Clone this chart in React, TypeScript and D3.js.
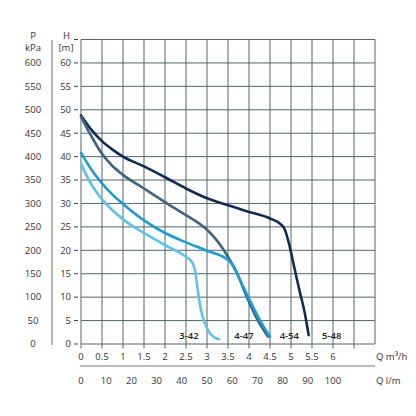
import { useEffect, useRef } from 'react';
import * as d3 from 'd3';

// flow in m³/h, head in m
const flowTicks = [0, 0.5, 1, 1.5, 2, 2.5, 3, 3.5, 4, 4.5, 5, 5.5, 6];
const lpmTicks = [0, 10, 20, 30, 40, 50, 60, 70, 80, 90, 100];
const headTicks = [0, 5, 10, 15, 20, 25, 30, 35, 40, 45, 50, 55, 60];
const pressureTicks = [0, 50, 100, 150, 200, 250, 300, 350, 400, 450, 500, 550, 600];

const q342 = [0, 0.17, 0.41, 0.73, 1.0, 1.5, 2.0, 2.5, 2.64, 2.72, 2.78, 2.85, 2.95, 3.07, 3.2, 3.28];
const h342 = [38.5, 35.3, 31.9, 28.7, 26.6, 23.7, 21.1, 18.6, 17.5, 15.5, 11.5, 7.5, 4.4, 2.3, 1.3, 1.0];

const q447 = [0, 0.25, 0.5, 0.75, 1.0, 1.5, 2.0, 2.5, 2.8, 3.0, 3.2, 3.5, 3.71, 3.94, 4.2, 4.45];
const h447 = [48.5, 44.3, 40.6, 38.0, 36.1, 33.2, 30.3, 27.5, 25.8, 24.4, 22.5, 18.6, 15.2, 10.2, 5.2, 1.6];

const q447b = [0, 0.25, 0.5, 0.75, 1.0, 1.5, 2.0, 2.5, 3.0, 3.5, 3.6, 3.8, 4.02, 4.26, 4.5];
const h447b = [40.8, 37.2, 34.3, 31.9, 29.9, 26.4, 23.7, 21.7, 19.9, 17.9, 17.0, 13.4, 9.3, 5.1, 1.5];

const q454 = [0, 0.25, 0.5, 0.75, 1.0, 1.5, 2.0, 2.5, 3.0, 3.5, 4.0, 4.5, 4.75, 4.85, 4.95, 5.05, 5.2, 5.33, 5.42];
const h454 = [48.8, 45.7, 43.3, 41.5, 40.0, 37.9, 35.6, 33.2, 31.1, 29.6, 28.2, 26.8, 25.6, 24.5, 21.5, 17.5, 11.5, 6.5, 1.9];

const modelLabels = ['3-42', '4-47', '4-54', '5-48'];
const modelLabelQ = [2.57, 3.88, 4.96, 5.97];

export default function App() {
  const svgRef = useRef<SVGSVGElement>(null);

  useEffect(() => {
    if (!svgRef.current) return;
    const svg = d3.select(svgRef.current);
    svg.selectAll('*').remove();

    const x = d3.scaleLinear().domain([0, 7]).range([81, 375]);
    const y = d3.scaleLinear().domain([0, 65]).range([344, 39.5]);
    const xl = d3.scaleLinear().domain([0, 7000 / 60]).range([81, 375]);
    const font = "'Open Sans', sans-serif";
    const gridColor = '#536769';
    const textColor = '#333';

    // left divider
    svg.append('line')
      .attr('x1', 52).attr('x2', 52).attr('y1', 40).attr('y2', 345)
      .attr('stroke', '#9a9a9a').attr('stroke-width', 1.5);

    const g = svg.append('g');

    // vertical grid, extended below as ticks
    const vLines = d3.range(0, 7.01, 0.5);
    g.selectAll('.vl')
      .data(vLines)
      .join('line')
      .attr('x1', (d) => x(d)).attr('x2', (d) => x(d))
      .attr('y1', y(65))
      .attr('y2', (d) => (d === 7 ? y(0) : y(0) + 4.5))
      .attr('stroke', gridColor).attr('stroke-width', 1);

    const hLines = d3.range(0, 65.01, 5);
    g.selectAll('.hl')
      .data(hLines)
      .join('line')
      .attr('x1', x(0)).attr('x2', x(7))
      .attr('y1', (d) => y(d)).attr('y2', (d) => y(d))
      .attr('stroke', gridColor).attr('stroke-width', 1);

    // H tick dashes
    g.selectAll('.hd')
      .data(hLines)
      .join('line')
      .attr('x1', 74).attr('x2', 78)
      .attr('y1', (d) => y(d)).attr('y2', (d) => y(d))
      .attr('stroke', '#444').attr('stroke-width', 1);

    const txt = (sel: any) =>
      sel.attr('font-family', font).attr('font-size', 9.5).attr('fill', textColor);

    g.selectAll('.hlab')
      .data(headTicks)
      .join('text')
      .attr('x', 71).attr('y', (d) => y(d)).attr('dy', '0.35em')
      .attr('text-anchor', 'end')
      .call(txt)
      .text((d) => d);

    g.selectAll('.plab')
      .data(pressureTicks)
      .join('text')
      .attr('x', 33).attr('y', (d) => y(d / 10)).attr('dy', '0.35em')
      .attr('text-anchor', 'middle')
      .call(txt)
      .text((d) => d);

    svg.append('text').attr('x', 33).attr('y', 38.5).attr('text-anchor', 'middle').call(txt).text('P');
    svg.append('text').attr('x', 33).attr('y', 50.5).attr('text-anchor', 'middle').call(txt).text('kPa');
    svg.append('text').attr('x', 66.5).attr('y', 38.5).attr('text-anchor', 'middle').call(txt).text('H');
    svg.append('text').attr('x', 66).attr('y', 50.5).attr('text-anchor', 'middle').call(txt).text('[m]');

    // bottom flow labels
    g.selectAll('.qlab')
      .data(flowTicks)
      .join('text')
      .attr('x', (d) => x(d)).attr('y', 360)
      .attr('text-anchor', 'middle')
      .call(txt)
      .text((d) => d);

    svg.append('line')
      .attr('x1', 80).attr('x2', 375).attr('y1', 366).attr('y2', 366)
      .attr('stroke', '#7a7a7a').attr('stroke-width', 1);

    g.selectAll('.llab')
      .data(lpmTicks)
      .join('text')
      .attr('x', (d) => xl(d)).attr('y', 383.5)
      .attr('text-anchor', 'middle')
      .call(txt)
      .text((d) => d);

    svg.append('text').attr('x', 376).attr('y', 360).call(txt).text('Q m³/h');
    svg.append('text').attr('x', 376).attr('y', 383.5).call(txt).text('Q l/m');

    // curves
    const line = d3.line<[number, number]>()
      .x((d) => x(d[0]))
      .y((d) => y(d[1]))
      .curve(d3.curveMonotoneX);

    const curves = [
      { q: q454, h: h454, color: '#0f2c55' },
      { q: q447, h: h447, color: '#40647f' },
      { q: q342, h: h342, color: '#5cc3ea' },
      { q: q447b, h: h447b, color: '#1c9bd6' },
    ];

    curves.forEach((c) => {
      svg.append('path')
        .attr('d', line(c.q.map((q, i) => [q, c.h[i]] as [number, number])))
        .attr('fill', 'none')
        .attr('stroke', c.color)
        .attr('stroke-width', 2.6)
        .attr('stroke-linecap', 'round')
        .attr('stroke-linejoin', 'round');
    });

    svg.selectAll('.mlab')
      .data(modelLabels)
      .join('text')
      .attr('x', (d, i) => x(modelLabelQ[i]))
      .attr('y', 338.5)
      .attr('text-anchor', 'middle')
      .attr('font-family', font)
      .attr('font-size', 9.5)
      .attr('font-weight', 600)
      .attr('fill', '#222')
      .text((d) => d);
  }, []);

  return (
    <svg
      ref={svgRef}
      width={416}
      height={416}
      style={{ position: 'absolute', left: 0, top: 0, background: '#fff' }}
    />
  );
}
